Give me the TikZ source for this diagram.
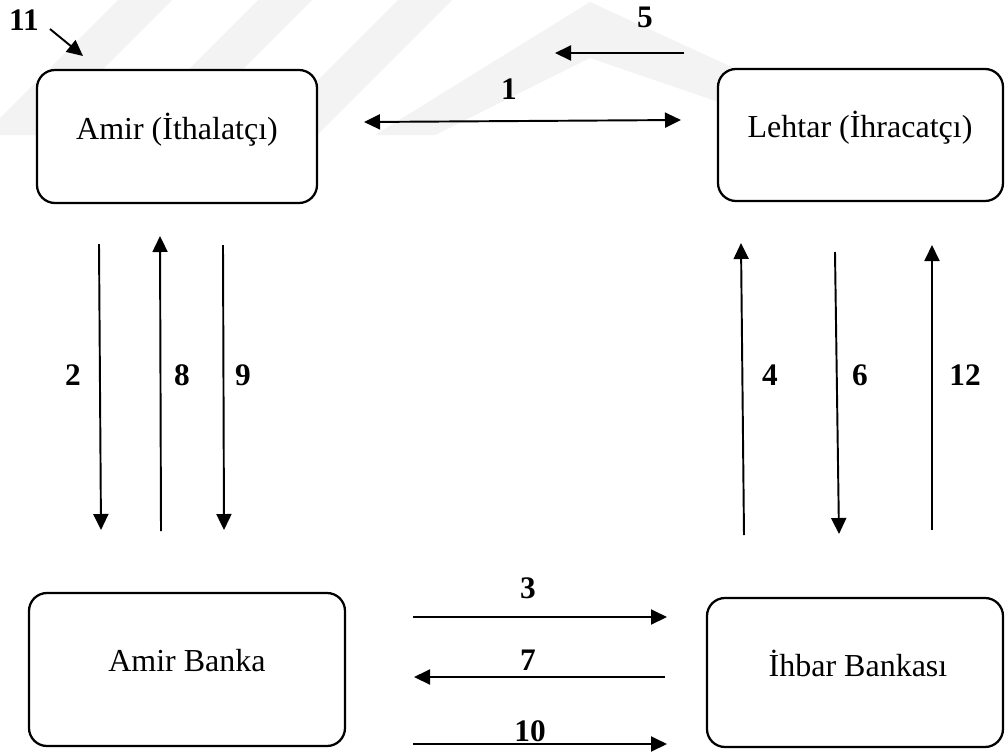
\documentclass[tikz,border=0pt]{standalone}
\usepackage{fontspec}
\setmainfont{Liberation Serif}
\usetikzlibrary{arrows.meta}

\definecolor{wmgray}{RGB}{243,243,243}

\begin{document}
\begin{tikzpicture}[x=0.75pt,y=-0.75pt,
  box/.style={draw=black, line width=1.7pt, rounded corners=13.5pt, fill=white, inner sep=0pt},
  txt/.style={font=\fontsize{24}{28}\selectfont, inner sep=0pt, anchor=base},
  num/.style={font=\fontsize{23.5}{27}\selectfont\bfseries, inner sep=0pt, anchor=base},
  tip/.style={Triangle[length=12pt,width=11.25pt]},
  arr/.style={line width=1.45pt, -{Triangle[length=12pt,width=11.25pt]}},
  darr/.style={line width=1.45pt, {Triangle[length=12pt,width=11.25pt]}-{Triangle[length=12pt,width=11.25pt]}},
  wm/.style={fill=wmgray, draw=none}]

% page
\useasboundingbox (0,0) rectangle (1008,751);
\fill[white] (0,0) rectangle (1008,751);

% faint background stripes
\begin{scope}
  \clip (0,0) rectangle (1008,135);
  \fill[wm] (118,0) -- (172,0) -- (37,135) -- (-17,135) -- cycle;
  \fill[wm] (258,0) -- (312,0) -- (177,135) -- (123,135) -- cycle;
  \fill[wm] (398,0) -- (452,0) -- (317,135) -- (263,135) -- cycle;
  \fill[wm] (375,135) -- (590,2) -- (880,135) -- (815,135) -- (590,58) -- (435,135) -- cycle;
\end{scope}

% parties and banks
\node[box, minimum width=210pt, minimum height=99.75pt] (amir) at (177,136.5) {};
\node[box, minimum width=213.75pt, minimum height=99pt] (lehtar) at (860.5,135) {};
\node[box, minimum width=237pt, minimum height=114.75pt] (amirbanka) at (187,669.5) {};
\node[box, minimum width=222pt, minimum height=111.75pt] (ihbar) at (855,672.5) {};

\node[txt] (amirtxt) at (177,139) {Amir (İthalatçı)};
\node[txt] (lehtartxt) at (860,137) {Lehtar (İhracatçı)};
\node[txt] (amirbankatxt) at (187,671) {Amir Banka};
\node[txt] (ihbartxt) at (858,676) {İhbar Bankası};

% arrow end points
\coordinate (a1s) at (364,122);  \coordinate (a1e) at (681,120);
\coordinate (a5s) at (684,53);   \coordinate (a5e) at (555,53);
\coordinate (a11s) at (50,29);   \coordinate (a11e) at (83,56);
\coordinate (a2s) at (99,244);   \coordinate (a2e) at (101,530);
\coordinate (a8s) at (161,531);  \coordinate (a8e) at (160,236);
\coordinate (a9s) at (223,245);  \coordinate (a9e) at (224,530);
\coordinate (a4s) at (744,535);  \coordinate (a4e) at (741,243);
\coordinate (a6s) at (835,252);  \coordinate (a6e) at (839,534);
\coordinate (a12s) at (932,530); \coordinate (a12e) at (932,245);
\coordinate (a3s) at (413,617);  \coordinate (a3e) at (667,617);
\coordinate (a7s) at (665,677);  \coordinate (a7e) at (414,677);
\coordinate (a10s) at (413,744); \coordinate (a10e) at (667,744);

% flows
\draw[darr] (a1s) -- (a1e);
\draw[arr] (a5s) -- (a5e);
\draw[arr] (a11s) -- (a11e);
\draw[arr] (a2s) -- (a2e);
\draw[arr] (a8s) -- (a8e);
\draw[arr] (a9s) -- (a9e);
\draw[arr] (a4s) -- (a4e);
\draw[arr] (a6s) -- (a6e);
\draw[arr] (a12s) -- (a12e);
\draw[arr] (a3s) -- (a3e);
\draw[arr] (a7s) -- (a7e);
\draw[arr] (a10s) -- (a10e);

% step numbers
\node[num] (n11) at (24,30) {11};
\node[num] (n5) at (645,27) {5};
\node[num] (n1) at (509,99) {1};
\node[num] (n2) at (73,385) {2};
\node[num] (n8) at (182,385) {8};
\node[num] (n9) at (243,385) {9};
\node[num] (n4) at (770,385) {4};
\node[num] (n6) at (860,385) {6};
\node[num] (n12) at (965,385) {12};
\node[num] (n3) at (528,598) {3};
\node[num] (n7) at (528,670) {7};
\node[num] (n10) at (530,741) {10};
\end{tikzpicture}
\end{document}
